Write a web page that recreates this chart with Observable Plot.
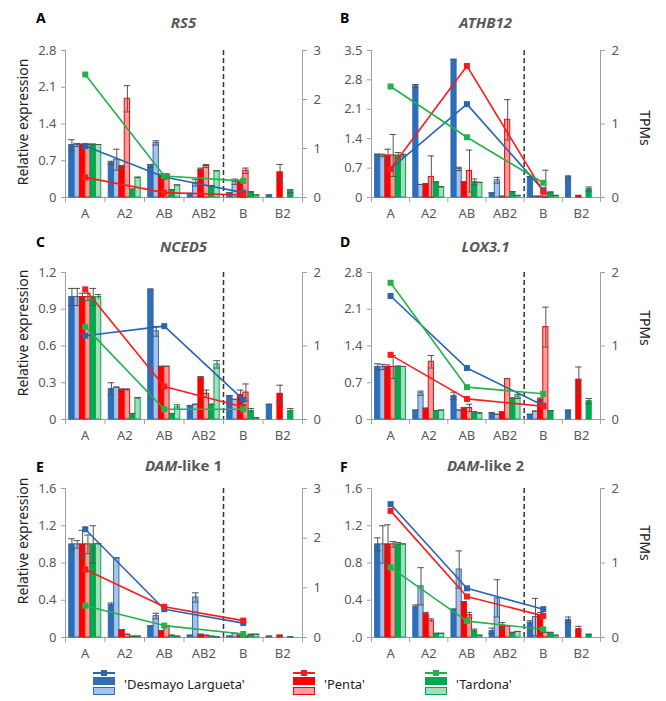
<!DOCTYPE html>
<html><head><meta charset="utf-8">
<script src="https://cdn.jsdelivr.net/npm/d3@7"></script>
<script src="https://cdn.jsdelivr.net/npm/@observablehq/plot@0.6"></script>
<style>
body{margin:0;background:#fff;font-family:"Noto Sans","Open Sans",sans-serif;}
#fig{position:relative;width:666px;height:701px;overflow:hidden;}
.panel{position:absolute;width:333px;}
.panel svg{position:absolute;left:0;top:0;background:transparent;}
.letter{position:absolute;font-weight:bold;font-size:14px;color:#000;}
.title{position:absolute;font-weight:bold;font-size:15px;color:#595959;transform:translate(-50%,-50%);white-space:nowrap;}
.ylab{position:absolute;font-size:14px;color:#222;white-space:nowrap;transform:translate(-50%,-50%) rotate(-90deg);}
.rlab{position:absolute;font-size:14px;color:#222;white-space:nowrap;transform:translate(-50%,-50%) rotate(90deg);}
.leg{position:absolute;top:671px;height:26px;}
.leg .ln{position:absolute;left:0;top:1px;width:22px;height:2px;}
.leg .mk{position:absolute;left:8px;top:-1px;width:6px;height:6px;}
.leg .dk{position:absolute;left:0;top:6px;width:22px;height:8px;}
.leg .lt{position:absolute;left:0;top:16px;width:20px;height:6px;border:1px solid;}
.leg .tx{position:absolute;left:31px;top:4px;font-size:13px;color:#222;white-space:nowrap;}
</style></head>
<body><div id="fig"></div>
<script>
// ---------- data ----------
const categories = ["A", "A2", "AB", "AB2", "B", "B2"];
const barSeries = ["DL dark", "DL light", "Penta dark", "Penta light", "Tardona dark", "Tardona light"];
const cultivars = ["'Desmayo Largueta'", "'Penta'", "'Tardona'"];
const tpmStages = ["A", "AB", "B"];
const dormancyBreak = "B";

// relative expression: rows = categories, columns = barSeries
const rs5Values = [[1,1,1,1,1,1],[0.66,0.72,0.58,1.88,0.15,0.37],[0.6,1.04,0.42,0.43,0.14,0.23],[0.07,0.28,0.53,0.6,0.22,0.5],[0.08,0.3,0.3,0.51,0.1,0.04],[0.04,0,0.48,0,0.12,0]];
const rs5Errors = [[0.1,0.03,0.02,0.02,0.02,0.01],[0.03,0.2,0.03,0.25,0.01,0.02],[0.03,0.04,0.03,0.02,0.01,0.01],[0.01,0.06,0.03,0.03,0.01,0.01],[0.01,0.05,0.03,0.05,0.01,0.01],[0.01,0,0.15,0,0.03,0]];
const rs5Tpm = {DL: [1.05,0.42,0.1], Penta: [0.41,0.1,0.05], Tardona: [2.51,0.44,0.34]};

const athb12Values = [[1.02,1,1,1,1,1],[2.65,0.3,0.32,0.49,0.36,0.24],[3.28,0.68,0.37,0.63,0.37,0.35],[0.1,0.41,0.02,1.85,0.13,0.04],[0.49,0.02,0.02,0.1,0.12,0.04],[0.5,0,0.04,0,0.2,0]];
const athb12Errors = [[0.01,0.03,0.15,0.5,0.07,0.03],[0.04,0.01,0.01,0.5,0.01,0.02],[0.01,0.04,0.01,0.5,0.07,0.01],[0.01,0.07,0.01,0.48,0.01,0.01],[0.01,0.01,0.01,0.55,0.01,0.01],[0.01,0,0.01,0,0.05,0]];
const athb12Tpm = {DL: [0.39,1.27,0.1], Penta: [0.39,1.79,0.08], Tardona: [1.51,0.82,0.2]};

const nced5Values = [[1,1,1,1,1,1],[0.25,0.26,0.24,0.24,0.04,0.17],[1.06,0.72,0.43,0.43,0.04,0.1],[0.11,0.12,0.34,0.21,0.12,0.45],[0.19,0.16,0.2,0.22,0.07,0.01],[0.12,0,0.21,0,0.07,0]];
const nced5Errors = [[0.07,0.07,0.03,0.03,0.07,0.02],[0.05,0.005,0.01,0.01,0.01,0.01],[0.005,0.04,0.005,0.005,0.01,0.02],[0.005,0.005,0.01,0.03,0.005,0.03],[0.005,0.005,0.04,0.07,0.02,0.005],[0.005,0,0.07,0,0.02,0]];
const nced5Tpm = {DL: [1.14,1.27,0.27], Penta: [1.77,0.45,0.17], Tardona: [1.26,0.14,0.14]};

const lox31Values = [[1,1,1,1,1,1],[0.17,0.5,0.2,1.1,0.16,0.17],[0.45,0.17,0.21,0.22,0.13,0.11],[0.12,0.09,0.14,0.77,0.4,0.44],[0.09,0.15,0.38,1.76,0.16,0],[0.17,0,0.76,0,0.35,0]];
const lox31Errors = [[0.06,0.05,0.04,0.22,0.02,0.01],[0.01,0.04,0.02,0.12,0.01,0.01],[0.07,0.01,0.02,0.07,0.02,0.02],[0.01,0.01,0.01,0.01,0.01,0.04],[0.01,0.01,0.03,0.38,0.01,0],[0.01,0,0.24,0,0.05,0]];
const lox31Tpm = {DL: [1.68,0.7,0.19], Penta: [0.88,0.28,0.18], Tardona: [1.86,0.44,0.35]};

const dam1Values = [[1,1,1,1,1,1],[0.35,0.85,0.08,0.03,0.01,0.01],[0.12,0.23,0.07,0.12,0.02,0.01],[0.02,0.43,0.03,0.02,0.01,0.005],[0.01,0.04,0.02,0.01,0.03,0.03],[0.01,0,0.02,0,0.005,0]];
const dam1Errors = [[0.06,0.04,0.15,0.1,0.2,0.01],[0.02,0.005,0.005,0.005,0.005,0.005],[0.005,0.03,0.005,0.005,0.005,0.005],[0.005,0.05,0.005,0.005,0.005,0],[0.005,0.005,0.005,0.005,0.005,0.005],[0.005,0,0.005,0,0,0]];
const dam1Tpm = {DL: [2.18,0.57,0.29], Penta: [1.37,0.62,0.34], Tardona: [0.64,0.24,0.07]};

const dam2Values = [[1,1,1,1,1,1],[0.33,0.55,0.25,0.18,0.04,0.04],[0.3,0.73,0.38,0.24,0.07,0.02],[0.07,0.42,0.13,0.12,0.05,0.06],[0.16,0.22,0.24,0.05,0.05,0.02],[0.19,0,0.09,0,0.03,0]];
const dam2Errors = [[0.07,0.2,0.21,0.03,0.02,0.005],[0.02,0.2,0.02,0.02,0.005,0.005],[0.005,0.2,0.005,0.03,0.02,0.005],[0.03,0.2,0.03,0.005,0.005,0.005],[0.02,0.2,0.03,0.005,0.005,0.005],[0.03,0,0.03,0,0.005,0]];
const dam2Tpm = {DL: [1.79,0.66,0.38], Penta: [1.7,0.55,0.29], Tardona: [0.94,0.22,0.11]};

const yTicks28 = [0, 0.7, 1.4, 2.1, 2.8];
const yTicks35 = [0, 0.7, 1.4, 2.1, 2.8, 3.5];
const yTicks12 = [0, 0.3, 0.6, 0.9, 1.2];
const yTicks16 = [0, 0.4, 0.8, 1.2, 1.6];
const rTicks3 = [0, 1, 2, 3];
const rTicks2 = [0, 1, 2];

// ---------- styling ----------
const darkCol = {DL: "#2e6db8", Penta: "#ff0000", Tardona: "#00a84f"};
const lightCol = {DL: "#a7c4e8", Penta: "#ff9c9c", Tardona: "#a6dcbb"};
const lineCol = {DL: "#2866b4", Penta: "#ff1a1a", Tardona: "#22b24a"};
const seriesCult = ["DL","DL","Penta","Penta","Tardona","Tardona"];
const axisGrey = "#a0a0a0";
const textGrey = "#595959";
const PAD = 0.095, SLOT = 0.135;

const panels = [
  {letter:"A", title:"<i>RS5</i>", vals:rs5Values, errs:rs5Errors, tpm:rs5Tpm, yTicks:yTicks28, rTicks:rTicks3, left:0, top:0, h:225, mt:50, mb:28, side:"L", titleY:22, letterY:8, labY:122},
  {letter:"B", title:"<i>ATHB12</i>", vals:athb12Values, errs:athb12Errors, tpm:athb12Tpm, yTicks:yTicks35, rTicks:rTicks2, left:333, top:0, h:225, mt:50, mb:28, side:"R", titleY:22, letterY:8, labY:128},
  {letter:"C", title:"<i>NCED5</i>", vals:nced5Values, errs:nced5Errors, tpm:nced5Tpm, yTicks:yTicks12, rTicks:rTicks2, left:0, top:225, h:225, mt:47, mb:31, side:"L", titleY:21, letterY:7, labY:108},
  {letter:"D", title:"<i>LOX3.1</i>", vals:lox31Values, errs:lox31Errors, tpm:lox31Tpm, yTicks:yTicks28, rTicks:rTicks2, left:333, top:225, h:225, mt:47, mb:31, side:"R", titleY:21, letterY:7, labY:103},
  {letter:"E", title:"<i>DAM</i>-like 1", vals:dam1Values, errs:dam1Errors, tpm:dam1Tpm, yTicks:yTicks16, rTicks:rTicks3, left:0, top:450, h:215, mt:38, mb:28, side:"L", titleY:15, letterY:7, labY:91},
  {letter:"F", title:"<i>DAM</i>-like 2", vals:dam2Values, errs:dam2Errors, tpm:dam2Tpm, yTicks:yTicks16, rTicks:rTicks2, left:333, top:450, h:215, mt:38, mb:28, side:"R", titleY:15, letterY:7, labY:93, zeroLabel:".0"}
];

const fig = document.getElementById("fig");
const fontStyle = {fontFamily: "'Noto Sans','Open Sans',sans-serif", fontSize: "13px", background: "transparent", overflow: "visible"};

for (const p of panels) {
  const ml = p.side === "L" ? 65 : 38;
  const mr = p.side === "L" ? 31 : 66;
  const rows = [];
  p.vals.forEach((row, ci) => row.forEach((v, si) => rows.push({ci, si, v, e: p.errs[ci][si], cult: seriesCult[si], light: si % 2 === 1})));
  const bars = rows.filter(d => d.v > 0);
  const x1 = d => d.ci + PAD + d.si * SLOT;
  const xc = d => x1(d) + SLOT / 2;
  const cap = 0.085;
  const yMax = p.yTicks[p.yTicks.length - 1];
  const rMax = p.rTicks[p.rTicks.length - 1];
  const fmt = v => v === 0 ? (p.zeroLabel || "0") : v.toFixed(1);

  const main = Plot.plot({
    width: 333, height: p.h, marginLeft: ml, marginRight: mr, marginTop: p.mt, marginBottom: p.mb,
    style: fontStyle,
    x: {domain: [0, categories.length], axis: null},
    y: {domain: [0, yMax], axis: null},
    color: {type: "identity"},
    marks: [
      Plot.axisY({ticks: p.yTicks, tickFormat: fmt, tickSize: 4, tickPadding: 5, stroke: axisGrey, fill: textGrey, label: null}),
      Plot.axisX({ticks: d3.range(0.5, categories.length), tickFormat: t => categories[Math.floor(t)], tickSize: 0, tickPadding: 11, fill: textGrey, label: null}),
      Plot.axisX({ticks: d3.range(0, categories.length + 1), tickFormat: () => "", tickSize: 5, stroke: axisGrey, label: null}),
      Plot.ruleX([0], {stroke: axisGrey}),
      Plot.ruleY([0], {stroke: axisGrey}),
      Plot.rectY(bars, {x1, x2: d => x1(d) + SLOT, y1: 0, y2: "v",
        fill: d => d.light ? lightCol[d.cult] : darkCol[d.cult],
        stroke: d => darkCol[d.cult], strokeWidth: 1, inset: 0}),
      Plot.ruleX(bars, {x: xc, y1: d => Math.max(0, d.v - d.e), y2: d => d.v + d.e, stroke: "#555", strokeWidth: 1}),
      Plot.ruleY(bars, {y: d => d.v + d.e, x1: d => xc(d) - cap, x2: d => xc(d) + cap, stroke: "#555", strokeWidth: 1}),
      Plot.ruleY(bars.filter(d => d.e > 0.02), {y: d => Math.max(0, d.v - d.e), x1: d => xc(d) - cap, x2: d => xc(d) + cap, stroke: "#555", strokeWidth: 1}),
      Plot.ruleX([categories.indexOf(dormancyBreak)], {stroke: "#333", strokeWidth: 1.5, strokeDasharray: "5,3"})
    ]
  });

  const tpmRows = [];
  for (const c of ["DL", "Penta", "Tardona"]) p.tpm[c].forEach((v, i) => tpmRows.push({cult: c, stage: tpmStages[i], v}));
  const tx = d => categories.indexOf(d.stage) + 0.5;
  const over = Plot.plot({
    width: 333, height: p.h, marginLeft: ml, marginRight: mr, marginTop: p.mt, marginBottom: p.mb,
    style: fontStyle,
    x: {domain: [0, categories.length], axis: null},
    y: {domain: [0, rMax], axis: null},
    color: {type: "identity"},
    marks: [
      Plot.axisY({anchor: "right", ticks: p.rTicks, tickFormat: d => String(d), tickSize: 4, tickPadding: 7, stroke: axisGrey, fill: textGrey, label: null}),
      Plot.ruleX([categories.length], {stroke: axisGrey}),
      Plot.line(tpmRows, {x: tx, y: "v", z: "cult", stroke: d => lineCol[d.cult], strokeWidth: 1.6}),
      Plot.dot(tpmRows, {x: tx, y: "v", symbol: "square", r: 3.4, fill: d => lineCol[d.cult], stroke: "none"})
    ]
  });

  const div = document.createElement("div");
  div.className = "panel";
  div.style.left = p.left + "px"; div.style.top = p.top + "px"; div.style.height = p.h + "px";
  div.appendChild(main);
  div.appendChild(over);
  const letter = document.createElement("div");
  letter.className = "letter"; letter.textContent = p.letter;
  letter.style.left = (p.side === "L" ? 36 : 7) + "px"; letter.style.top = p.letterY + "px";
  div.appendChild(letter);
  const title = document.createElement("div");
  title.className = "title"; title.innerHTML = p.title;
  title.style.left = (ml + (333 - ml - mr) / 2) + "px"; title.style.top = p.titleY + "px";
  div.appendChild(title);
  const lab = document.createElement("div");
  if (p.side === "L") { lab.className = "ylab"; lab.textContent = "Relative expression"; lab.style.left = "22px"; }
  else { lab.className = "rlab"; lab.textContent = "TPMs"; lab.style.left = "312px"; }
  lab.style.top = p.labY + "px";
  div.appendChild(lab);
  fig.appendChild(div);
}

// legend
const legPos = [{c: "DL", x: 93}, {c: "Penta", x: 293}, {c: "Tardona", x: 425}];
legPos.forEach((l, i) => {
  const g = document.createElement("div");
  g.className = "leg"; g.style.left = l.x + "px";
  g.innerHTML = `<div class="ln" style="background:${lineCol[l.c]}"></div><div class="mk" style="background:${lineCol[l.c]}"></div>` +
    `<div class="dk" style="background:${darkCol[l.c]}"></div><div class="lt" style="background:${lightCol[l.c]};border-color:${darkCol[l.c]}"></div>` +
    `<div class="tx">${cultivars[i]}</div>`;
  fig.appendChild(g);
});
</script>
</body></html>
